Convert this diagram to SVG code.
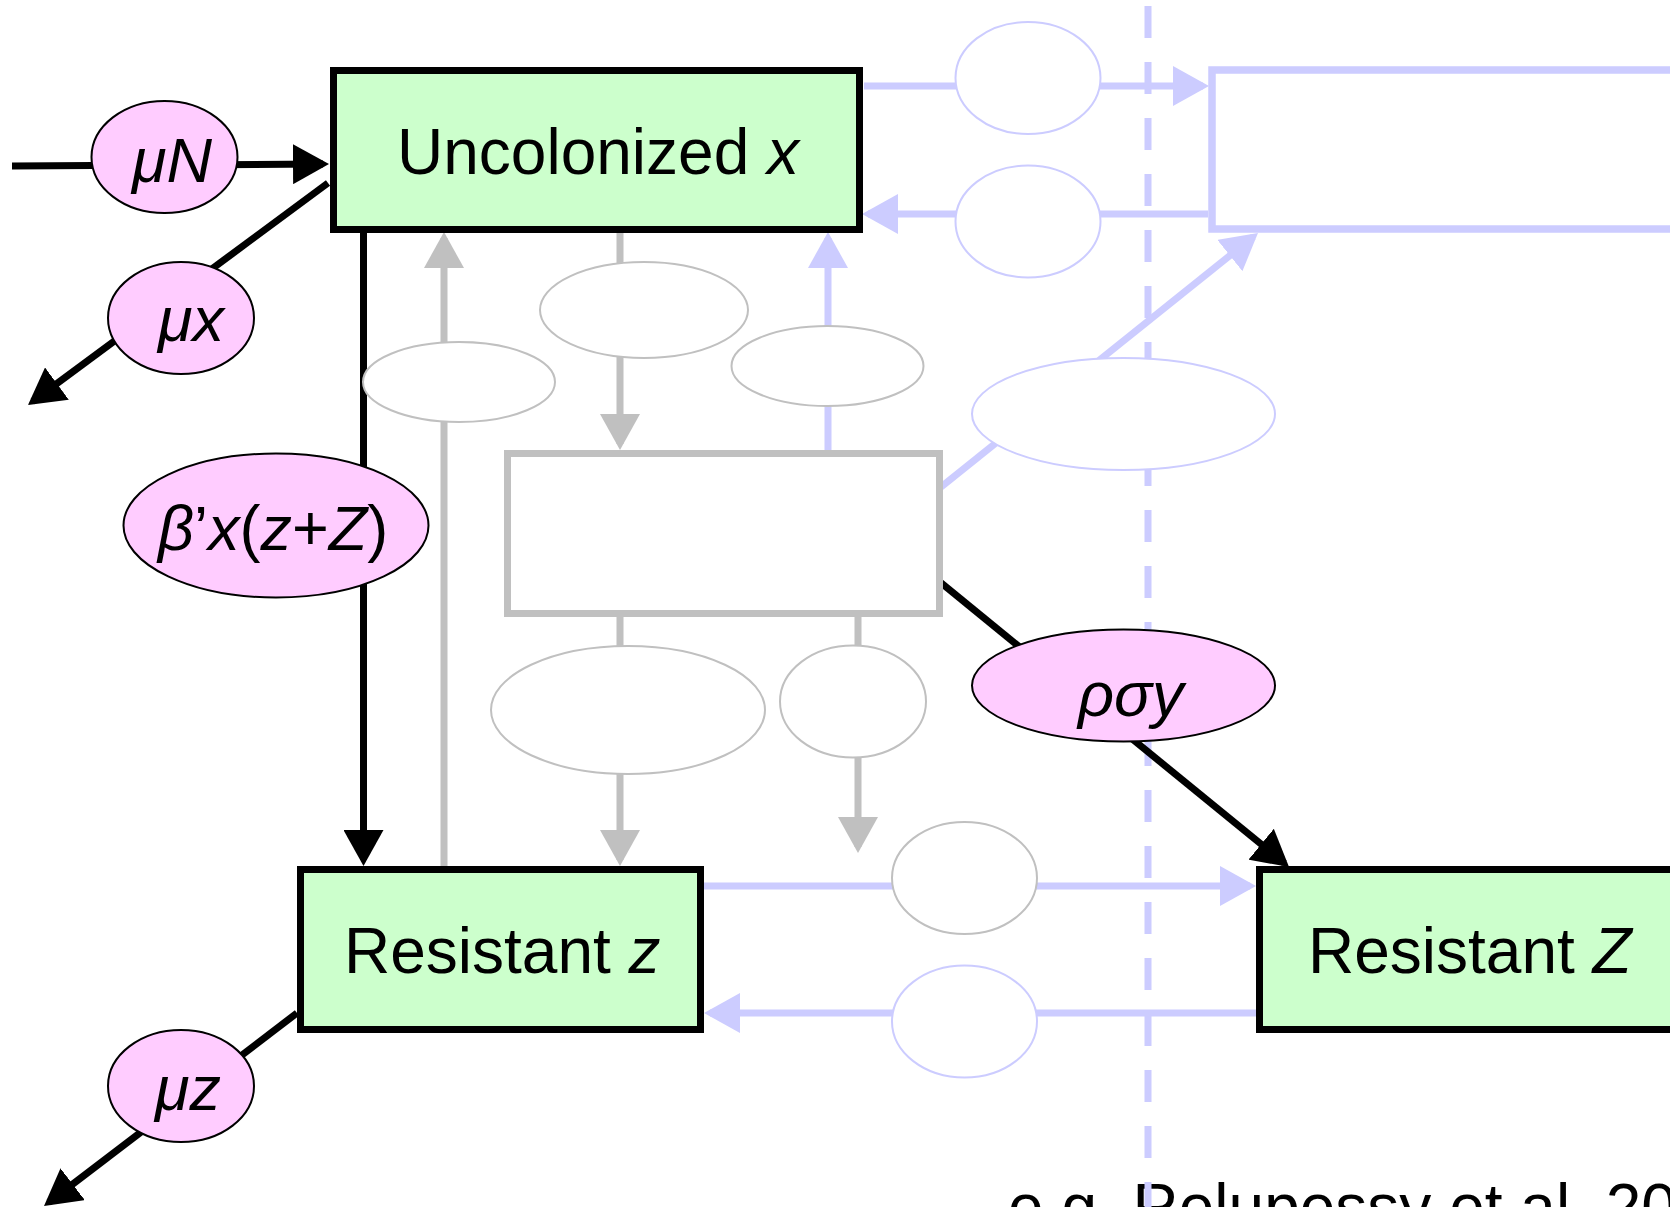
<svg xmlns="http://www.w3.org/2000/svg" width="1670" height="1207" viewBox="0 0 1670 1207">
<defs>
<style>
text{font-family:"Liberation Sans",Arial,sans-serif;fill:#000}
.big{font-size:64px}
.lab{font-size:63px}
.it{font-style:italic}
.ln-k{stroke:#000;stroke-width:7;fill:none}
.ln-g{stroke:#c0c0c0;stroke-width:7;fill:none}
.ln-l{stroke:#ccccff;stroke-width:7;fill:none}
.box{fill:#ccffcc;stroke:#000;stroke-width:7}
.gbox{fill:#fff;stroke:#c0c0c0;stroke-width:7}
.lbox{fill:#fff;stroke:#ccccff;stroke-width:7.5}
.pe{fill:#ffccff;stroke:#000;stroke-width:2}
.ge{fill:#fff;stroke:#c0c0c0;stroke-width:2}
.le{fill:#fff;stroke:#ccccff;stroke-width:2}
</style>
<marker id="ak" viewBox="0 0 36 40" refX="30" refY="20" markerWidth="36" markerHeight="40" markerUnits="userSpaceOnUse" orient="auto"><path d="M0,0 L36,20 L0,40 Z" fill="#000"/></marker>
<marker id="ag" viewBox="0 0 36 40" refX="30" refY="20" markerWidth="36" markerHeight="40" markerUnits="userSpaceOnUse" orient="auto"><path d="M0,0 L36,20 L0,40 Z" fill="#c0c0c0"/></marker>
<marker id="al" viewBox="0 0 36 40" refX="30" refY="20" markerWidth="36" markerHeight="40" markerUnits="userSpaceOnUse" orient="auto"><path d="M0,0 L36,20 L0,40 Z" fill="#ccccff"/></marker>
</defs>
<rect width="1670" height="1207" fill="#fff"/>

<text class="big" x="1008" y="1229">e.g. Relupessy et al. 20</text>

<line id="divider" x1="1148" y1="6" x2="1148" y2="1207" stroke="#ccccff" stroke-width="7" stroke-dasharray="32 24"/>

<g id="connectors">
<line class="ln-k" x1="12" y1="166" x2="323" y2="164" marker-end="url(#ak)"/>
<line class="ln-k" x1="328" y1="183" x2="32.8" y2="401.4" marker-end="url(#ak)"/>
<line class="ln-k" x1="363.5" y1="232" x2="363.5" y2="860" marker-end="url(#ak)"/>
<line class="ln-g" x1="444" y1="866" x2="444" y2="238" marker-end="url(#ag)"/>
<line class="ln-g" x1="620" y1="232" x2="620" y2="444" marker-end="url(#ag)"/>
<line class="ln-l" x1="828" y1="450" x2="828" y2="238" marker-end="url(#al)"/>
<line class="ln-g" x1="620" y1="617" x2="620" y2="860" marker-end="url(#ag)"/>
<line class="ln-g" x1="858" y1="617" x2="858" y2="847" marker-end="url(#ag)"/>
<line class="ln-k" x1="940" y1="582" x2="1284.4" y2="863.2" marker-end="url(#ak)"/>
<line class="ln-l" x1="941" y1="487" x2="1253.3" y2="236.8" marker-end="url(#al)"/>
<line class="ln-l" x1="864" y1="86" x2="1203" y2="86" marker-end="url(#al)"/>
<line class="ln-l" x1="1208" y1="214" x2="868" y2="214" marker-end="url(#al)"/>
<line class="ln-l" x1="704" y1="886" x2="1250" y2="886" marker-end="url(#al)"/>
<line class="ln-l" x1="1256" y1="1013" x2="710" y2="1013" marker-end="url(#al)"/>
<line class="ln-k" x1="297" y1="1013" x2="48.8" y2="1202.4" marker-end="url(#ak)"/>
</g>

<g id="node-uncolonized">
<rect class="box" x="333.5" y="70.5" width="526" height="159"/>
<text class="big" x="397" y="174">Uncolonized <tspan class="it">x</tspan></text>
</g>
<g id="node-lavender-box">
<rect class="lbox" x="1212" y="70" width="600" height="159"/>
</g>
<g id="node-gray-box">
<rect class="gbox" x="507.5" y="453.5" width="432" height="160"/>
</g>
<g id="node-resistant-z">
<rect class="box" x="300.5" y="869.5" width="400" height="160"/>
<text class="big" x="344" y="973">Resistant <tspan class="it">z</tspan></text>
</g>
<g id="node-resistant-Z">
<rect class="box" x="1259.5" y="869.5" width="500" height="160"/>
<text class="big" x="1308" y="973">Resistant <tspan class="it">Z</tspan></text>
</g>

<g id="rate-muN"><ellipse class="pe" cx="164.5" cy="157" rx="73" ry="56"/><text class="lab it" x="132" y="182">μN</text></g>
<g id="rate-mux"><ellipse class="pe" cx="181" cy="318" rx="73" ry="56"/><text class="lab it" x="158" y="341">μx</text></g>
<g id="rate-beta"><ellipse class="pe" cx="276" cy="525.5" rx="152.5" ry="72"/><text class="lab" x="158" y="550"><tspan class="it">β</tspan>’<tspan class="it">x</tspan>(<tspan class="it">z</tspan>+<tspan class="it">Z</tspan>)</text></g>
<g id="rate-rhosigmay"><ellipse class="pe" cx="1123.5" cy="685.5" rx="151.5" ry="56"/><text class="lab it" x="1078" y="716">ρσy</text></g>
<g id="rate-muz"><ellipse class="pe" cx="181" cy="1086" rx="73" ry="56"/><text class="lab it" x="155" y="1110">μz</text></g>

<g id="empty-rate-1"><ellipse class="ge" cx="459" cy="382" rx="96" ry="40"/></g>
<g id="empty-rate-2"><ellipse class="ge" cx="644" cy="310" rx="104" ry="48"/></g>
<g id="empty-rate-3"><ellipse class="ge" cx="827.5" cy="366" rx="96" ry="40"/></g>
<g id="empty-rate-4"><ellipse class="ge" cx="628" cy="710" rx="137" ry="64"/></g>
<g id="empty-rate-5"><ellipse class="ge" cx="853" cy="701.5" rx="73" ry="56"/></g>
<g id="empty-rate-6"><ellipse class="ge" cx="964.5" cy="878" rx="72.5" ry="56"/></g>
<g id="empty-rate-7"><ellipse class="le" cx="964.5" cy="1021.5" rx="72.5" ry="56"/></g>
<g id="empty-rate-8"><ellipse class="le" cx="1028" cy="78" rx="72.5" ry="56"/></g>
<g id="empty-rate-9"><ellipse class="le" cx="1028" cy="221.5" rx="72.5" ry="56"/></g>
<g id="empty-rate-10"><ellipse class="le" cx="1123.5" cy="414" rx="151.5" ry="56"/></g>
</svg>
